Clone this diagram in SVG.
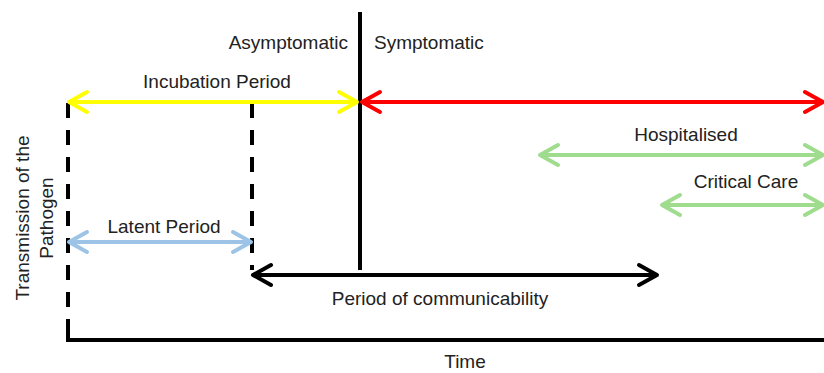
<svg xmlns="http://www.w3.org/2000/svg" width="824" height="373" viewBox="0 0 824 373">
<style>
text{font-family:"Liberation Sans",Arial,sans-serif;font-size:19px;fill:#222;}
.c{text-anchor:middle}
.ln{fill:none;stroke-width:4}
.dash{fill:none;stroke:#000;stroke-width:4;stroke-dasharray:15 12}
</style>
<defs>
<marker id="hy" markerUnits="userSpaceOnUse" viewBox="0 0 24 26" refX="21" refY="13" markerWidth="24" markerHeight="26" orient="auto-start-reverse"><path d="M3,3 L21,13 L3,23" fill="none" stroke="#ffff00" stroke-width="4" stroke-linecap="round" stroke-linejoin="round"/></marker>
<marker id="hr" markerUnits="userSpaceOnUse" viewBox="0 0 24 26" refX="21" refY="13" markerWidth="24" markerHeight="26" orient="auto-start-reverse"><path d="M3,3 L21,13 L3,23" fill="none" stroke="#ff0000" stroke-width="4" stroke-linecap="round" stroke-linejoin="round"/></marker>
<marker id="hg" markerUnits="userSpaceOnUse" viewBox="0 0 24 26" refX="21" refY="13" markerWidth="24" markerHeight="26" orient="auto-start-reverse"><path d="M3,3 L21,13 L3,23" fill="none" stroke="#9fdc8e" stroke-width="4" stroke-linecap="round" stroke-linejoin="round"/></marker>
<marker id="hb" markerUnits="userSpaceOnUse" viewBox="0 0 24 26" refX="21" refY="13" markerWidth="24" markerHeight="26" orient="auto-start-reverse"><path d="M3,3 L21,13 L3,23" fill="none" stroke="#9dc3e6" stroke-width="4" stroke-linecap="round" stroke-linejoin="round"/></marker>
<marker id="hk" markerUnits="userSpaceOnUse" viewBox="0 0 24 26" refX="21" refY="13" markerWidth="24" markerHeight="26" orient="auto-start-reverse"><path d="M3,3 L21,13 L3,23" fill="none" stroke="#000" stroke-width="4" stroke-linecap="round" stroke-linejoin="round"/></marker>
</defs>
<rect width="824" height="373" fill="#fff"/>
<g id="axes">
<path class="dash" d="M68,103 V333"/>
<path d="M68,326 V340 H824" fill="none" stroke="#000" stroke-width="4"/>
<path class="dash" d="M252,103 V270"/>
<line x1="360" y1="12" x2="360" y2="270" stroke="#000" stroke-width="4"/>
</g>
<g id="connectors">
<line class="ln" x1="69" y1="102" x2="357" y2="102" stroke="#ffff00" marker-start="url(#hy)" marker-end="url(#hy)"/>
<line class="ln" x1="362" y1="102" x2="823" y2="102" stroke="#ff0000" marker-start="url(#hr)" marker-end="url(#hr)"/>
<line class="ln" x1="540" y1="155" x2="823" y2="155" stroke="#9fdc8e" marker-start="url(#hg)" marker-end="url(#hg)"/>
<line class="ln" x1="662" y1="205" x2="823" y2="205" stroke="#9fdc8e" marker-start="url(#hg)" marker-end="url(#hg)"/>
<line class="ln" x1="69" y1="242" x2="251" y2="242" stroke="#9dc3e6" marker-start="url(#hb)" marker-end="url(#hb)"/>
<line class="ln" x1="253" y1="275" x2="657" y2="275" stroke="#000" marker-start="url(#hk)" marker-end="url(#hk)"/>
</g>
<g id="labels">
<text x="348" y="49" text-anchor="end">Asymptomatic</text>
<text x="374" y="49">Symptomatic</text>
<text class="c" x="217" y="88">Incubation Period</text>
<text class="c" x="686" y="141">Hospitalised</text>
<text class="c" x="746" y="188">Critical Care</text>
<text class="c" x="164" y="233">Latent Period</text>
<text class="c" x="440" y="305">Period of communicability</text>
<text class="c" x="465" y="368">Time</text>
<text class="c" transform="translate(29,218) rotate(-90)">Transmission of the</text>
<text class="c" transform="translate(53,218) rotate(-90)">Pathogen</text>
</g>
</svg>
